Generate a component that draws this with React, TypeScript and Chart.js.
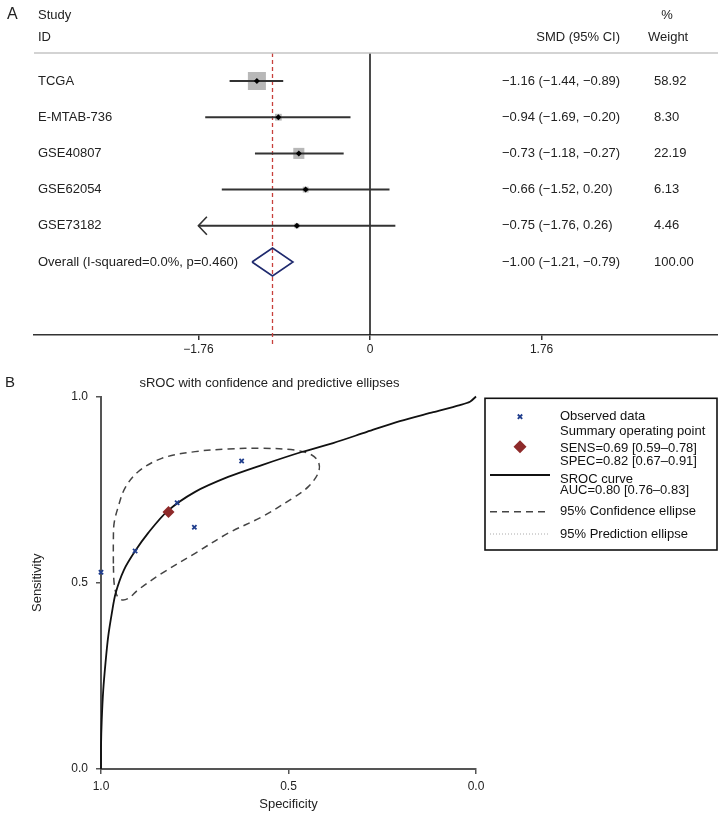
import React, { useEffect, useRef } from "react";
import { Chart, registerables } from "chart.js";

Chart.register(...registerables);

// ---------------- Panel A data (forest plot) ----------------
const STUDIES = ["TCGA", "E-MTAB-736", "GSE40807", "GSE62054", "GSE73182"];
const SMD = [-1.16, -0.94, -0.73, -0.66, -0.75];
const CI_LOW = [-1.44, -1.69, -1.18, -1.52, -1.76];
const CI_HIGH = [-0.89, -0.2, -0.27, 0.2, 0.26];
const WEIGHTS = [58.92, 8.3, 22.19, 6.13, 4.46];
const OVERALL_LABEL = "Overall (I-squared=0.0%, p=0.460)";
const OVERALL_SMD = -1.0;
const OVERALL_LOW = -1.21;
const OVERALL_HIGH = -0.79;
const OVERALL_WEIGHT = 100.0;
const FOREST_TICKS = [-1.76, 0, 1.76];

// ---------------- Panel B data (sROC) ----------------
const SROC_SPEC = [1.0, 1.0, 0.998, 0.994, 0.988, 0.981, 0.971, 0.961, 0.939, 0.909, 0.874, 0.822, 0.749, 0.661, 0.571, 0.465, 0.381, 0.291, 0.203, 0.114, 0.043, 0.016, 0.0];
const SROC_SENS = [0.0, 0.059, 0.132, 0.212, 0.285, 0.354, 0.419, 0.472, 0.534, 0.585, 0.634, 0.693, 0.744, 0.784, 0.816, 0.851, 0.875, 0.905, 0.934, 0.958, 0.977, 0.986, 1.0];
const ELLIPSE_SPEC = [0.967, 0.967, 0.965, 0.954, 0.936, 0.901, 0.838, 0.749, 0.661, 0.571, 0.483, 0.438, 0.419, 0.421, 0.447, 0.483, 0.571, 0.661, 0.749, 0.838, 0.901, 0.927, 0.945, 0.958, 0.965, 0.967];
const ELLIPSE_SENS = [0.552, 0.615, 0.66, 0.704, 0.754, 0.798, 0.834, 0.852, 0.859, 0.861, 0.856, 0.843, 0.821, 0.794, 0.758, 0.731, 0.677, 0.633, 0.579, 0.525, 0.481, 0.458, 0.454, 0.467, 0.499, 0.552];
const OBS_SPEC = [1.0, 0.909, 0.797, 0.751, 0.625];
const OBS_SENS = [0.528, 0.585, 0.715, 0.649, 0.827];
const SUMMARY_SPEC = 0.82;
const SUMMARY_SENS = 0.69;
const ROC_TICKS = [0, 0.5, 1];
const LEGEND_LABELS = [
  "Observed data",
  "Summary operating point",
  "SENS=0.69 [0.59\u20130.78]",
  "SPEC=0.82 [0.67\u20130.91]",
  "SROC curve",
  "AUC=0.80 [0.76\u20130.83]",
  "95% Confidence ellipse",
  "95% Prediction ellipse",
];

// ---------------- styles ----------------
const FONT = "'Liberation Sans', Arial, Helvetica, sans-serif";
const TEXT = "#222";
const AXIS = "#333";
const RED = "#c8403c";
const NAVY = "#1f2a6e";
const MARK_BLUE = "#1f3d8c";
const DIAMOND_RED = "#8e2a2a";

Chart.defaults.font.family = FONT;

const fmt = (v: number) => (v < 0 ? "\u2212" : "") + Math.abs(v).toFixed(2);
const tickFmt = (v: number) => (v === 0 ? "0" : fmt(v));

// forest layout (axis limits)
const FX_MIN = -3.446;
const FX_MAX = 3.569;
const FY_MIN = 0.2265;
const FY_MAX = 8.0166;
const DIAMOND_HALF = 0.387;
const SQUARE_SCALE = 2.35;

function ForestChart() {
  const ref = useRef<HTMLCanvasElement | null>(null);
  useEffect(() => {
    if (!ref.current) return;
    const overallRow = STUDIES.length + 1;
    const lineDs = (data: any[], color: string, width: number, extra: any = {}) => ({
      data,
      showLine: true,
      borderColor: color,
      borderWidth: width,
      pointRadius: 0,
      pointHoverRadius: 0,
      tension: 0,
      fill: false,
      ...extra,
    });
    const datasets: any[] = [];
    // point estimate dots (top)
    datasets.push({
      data: STUDIES.map((_, i) => ({ x: SMD[i], y: i + 1 })),
      pointStyle: "rectRot",
      pointRadius: 3,
      backgroundColor: "#000",
      borderColor: "#000",
      borderWidth: 0,
      showLine: false,
    });
    // CI lines
    STUDIES.forEach((_, i) => {
      datasets.push(
        lineDs(
          [
            { x: CI_LOW[i], y: i + 1 },
            { x: CI_HIGH[i], y: i + 1 },
          ],
          AXIS,
          2
        )
      );
    });
    // weight squares
    datasets.push({
      data: STUDIES.map((_, i) => ({ x: SMD[i], y: i + 1 })),
      pointStyle: "rect",
      pointRadius: WEIGHTS.map((w) => (SQUARE_SCALE * Math.sqrt(w)) / Math.SQRT2),
      backgroundColor: "#b8b8b8",
      borderColor: "#b8b8b8",
      borderWidth: 0,
      showLine: false,
    });
    // overall diamond
    datasets.push(
      lineDs(
        [
          { x: OVERALL_LOW, y: overallRow },
          { x: OVERALL_SMD, y: overallRow - DIAMOND_HALF },
          { x: OVERALL_HIGH, y: overallRow },
          { x: OVERALL_SMD, y: overallRow + DIAMOND_HALF },
          { x: OVERALL_LOW, y: overallRow },
        ],
        NAVY,
        1.6
      )
    );
    // red dashed overall line
    datasets.push(
      lineDs(
        [
          { x: OVERALL_SMD, y: FY_MIN },
          { x: OVERALL_SMD, y: FY_MAX + 0.25 },
        ],
        RED,
        1.3,
        { borderDash: [4, 3], clip: false }
      )
    );
    // no-effect line
    datasets.push(
      lineDs(
        [
          { x: 0, y: FY_MIN },
          { x: 0, y: FY_MAX },
        ],
        "#111",
        1.5
      )
    );

    const textPlugin = {
      id: "forestText",
      afterDraw(chart: any) {
        const { ctx, chartArea, scales } = chart;
        const xs = scales.x;
        const ys = scales.y;
        ctx.save();
        // header rule
        ctx.strokeStyle = "#c4c4c4";
        ctx.lineWidth = 1.5;
        ctx.beginPath();
        ctx.moveTo(chartArea.left, chartArea.top);
        ctx.lineTo(chartArea.right, chartArea.top);
        ctx.stroke();
        // arrows for truncated CIs
        ctx.strokeStyle = AXIS;
        ctx.lineWidth = 1.6;
        STUDIES.forEach((_, i) => {
          if (CI_LOW[i] <= FOREST_TICKS[0]) {
            const px = xs.getPixelForValue(CI_LOW[i]);
            const py = ys.getPixelForValue(i + 1);
            ctx.beginPath();
            ctx.moveTo(px + 8.5, py - 9);
            ctx.lineTo(px, py);
            ctx.lineTo(px + 8.5, py + 9);
            ctx.stroke();
          }
        });
        ctx.fillStyle = TEXT;
        ctx.textBaseline = "middle";
        // x tick labels
        ctx.textAlign = "center";
        ctx.font = `12px ${FONT}`;
        FOREST_TICKS.forEach((v) => {
          ctx.fillText(tickFmt(v), xs.getPixelForValue(v), chartArea.bottom + 15);
        });
        ctx.textAlign = "left";
        ctx.font = `16px ${FONT}`;
        ctx.fillText("A", 7, 15);
        ctx.font = `13px ${FONT}`;
        ctx.fillText("Study", 38, 15);
        ctx.fillText("ID", 38, 37.5);
        ctx.fillText("Weight", 648, 37.5);
        ctx.textAlign = "center";
        ctx.fillText("%", 667, 15);
        ctx.textAlign = "right";
        ctx.fillText("SMD (95% CI)", 620, 37.5);
        ctx.textAlign = "left";
        const rows = STUDIES.map((s, i) => ({
          label: s,
          est: SMD[i],
          lo: CI_LOW[i],
          hi: CI_HIGH[i],
          w: WEIGHTS[i],
          row: i + 1,
        }));
        rows.push({
          label: OVERALL_LABEL,
          est: OVERALL_SMD,
          lo: OVERALL_LOW,
          hi: OVERALL_HIGH,
          w: OVERALL_WEIGHT,
          row: overallRow,
        });
        rows.forEach((r) => {
          const py = ys.getPixelForValue(r.row);
          ctx.fillText(r.label, 38, py);
          ctx.fillText(`${fmt(r.est)} (${fmt(r.lo)}, ${fmt(r.hi)})`, 502, py);
          ctx.fillText(r.w.toFixed(2), 654, py);
        });
        ctx.restore();
      },
    };

    const chart = new Chart(ref.current, {
      type: "scatter",
      data: { datasets },
      options: {
        animation: false,
        responsive: false,
        events: [],
        layout: { autoPadding: false, padding: { left: 34, right: 0, top: 53, bottom: 0 } },
        plugins: { legend: { display: false }, tooltip: { enabled: false } },
        scales: {
          x: {
            type: "linear",
            min: FX_MIN,
            max: FX_MAX,
            afterBuildTicks: (ax: any) => {
              ax.ticks = FOREST_TICKS.map((v) => ({ value: v }));
            },
            afterFit: (ax: any) => {
              ax.height = 30;
            },
            ticks: { display: false },
            grid: { drawOnChartArea: false, drawTicks: true, tickLength: 5, color: AXIS, lineWidth: 1.5 },
            border: { display: true, color: AXIS, width: 1.5 },
          },
          y: { type: "linear", display: false, reverse: true, min: FY_MIN, max: FY_MAX },
        },
      } as any,
      plugins: [textPlugin],
    });
    return () => chart.destroy();
  }, []);
  return (
    <canvas
      ref={ref}
      width={718}
      height={365}
      style={{ position: "absolute", left: 0, top: 0, width: 718, height: 365 }}
    />
  );
}

function RocChart() {
  const ref = useRef<HTMLCanvasElement | null>(null);
  useEffect(() => {
    if (!ref.current) return;
    const datasets: any[] = [
      {
        data: OBS_SPEC.map((s, i) => ({ x: s, y: OBS_SENS[i] })),
        pointStyle: "crossRot",
        pointRadius: 3,
        borderColor: MARK_BLUE,
        backgroundColor: MARK_BLUE,
        borderWidth: 1.8,
        showLine: false,
        clip: false,
      },
      {
        data: [{ x: SUMMARY_SPEC, y: SUMMARY_SENS }],
        pointStyle: "rectRot",
        pointRadius: 6,
        backgroundColor: DIAMOND_RED,
        borderColor: DIAMOND_RED,
        borderWidth: 0,
        showLine: false,
        clip: false,
      },
      {
        data: SROC_SPEC.map((s, i) => ({ x: s, y: SROC_SENS[i] })),
        showLine: true,
        borderColor: "#111",
        borderWidth: 1.8,
        pointRadius: 0,
        tension: 0.3,
        fill: false,
        clip: false,
      },
      {
        data: ELLIPSE_SPEC.map((s, i) => ({ x: s, y: ELLIPSE_SENS[i] })),
        showLine: true,
        borderColor: "#444",
        borderWidth: 1.5,
        borderDash: [7, 5],
        pointRadius: 0,
        tension: 0.35,
        fill: false,
        clip: false,
      },
    ];

    const decoPlugin = {
      id: "rocDeco",
      afterDraw(chart: any) {
        const { ctx } = chart;
        ctx.save();
        ctx.fillStyle = TEXT;
        ctx.textBaseline = "middle";
        ctx.textAlign = "left";
        ctx.font = `15px ${FONT}`;
        ctx.fillText("B", 5, 18);
        ctx.textAlign = "center";
        ctx.font = `13px ${FONT}`;
        ctx.fillText("sROC with confidence and predictive ellipses", 269.5, 18.3);
        // legend box
        const bx = 485, by = 33.3, bw = 232, bh = 151.7;
        ctx.strokeStyle = "#111";
        ctx.lineWidth = 1.6;
        ctx.strokeRect(bx, by, bw, bh);
        const tx = 560;
        const ty = [51.7, 66.7, 83.3, 96.7, 114, 125, 146.7, 169];
        ctx.textAlign = "left";
        ctx.fillStyle = "#111";
        LEGEND_LABELS.forEach((t, i) => ctx.fillText(t, tx, ty[i]));
        // symbols
        const sx = 520;
        ctx.strokeStyle = MARK_BLUE;
        ctx.lineWidth = 1.8;
        const r = 2.2;
        ctx.beginPath();
        ctx.moveTo(sx - r, ty[0] - r);
        ctx.lineTo(sx + r, ty[0] + r);
        ctx.moveTo(sx + r, ty[0] - r);
        ctx.lineTo(sx - r, ty[0] + r);
        ctx.stroke();
        ctx.fillStyle = DIAMOND_RED;
        const dy = 81.7;
        ctx.beginPath();
        ctx.moveTo(sx - 6.5, dy);
        ctx.lineTo(sx, dy - 6.5);
        ctx.lineTo(sx + 6.5, dy);
        ctx.lineTo(sx, dy + 6.5);
        ctx.closePath();
        ctx.fill();
        ctx.strokeStyle = "#111";
        ctx.lineWidth = 1.8;
        ctx.beginPath();
        ctx.moveTo(490, 110);
        ctx.lineTo(550, 110);
        ctx.stroke();
        ctx.strokeStyle = "#444";
        ctx.lineWidth = 1.5;
        ctx.setLineDash([7, 5]);
        ctx.beginPath();
        ctx.moveTo(490, 146.7);
        ctx.lineTo(550, 146.7);
        ctx.stroke();
        ctx.strokeStyle = "#aaa";
        ctx.lineWidth = 1;
        ctx.setLineDash([1, 2]);
        ctx.beginPath();
        ctx.moveTo(490, 169);
        ctx.lineTo(550, 169);
        ctx.stroke();
        ctx.restore();
      },
    };

    const axisCommon = {
      type: "linear",
      min: 0,
      max: 1,
      afterBuildTicks: (ax: any) => {
        ax.ticks = ROC_TICKS.map((v) => ({ value: v }));
      },
      grid: { drawOnChartArea: false, drawTicks: true, tickLength: 5, color: "#555", lineWidth: 1.5 },
      border: { display: true, color: "#555", width: 2 },
    };

    const chart = new Chart(ref.current, {
      type: "scatter",
      data: { datasets },
      options: {
        animation: false,
        responsive: false,
        events: [],
        layout: { autoPadding: false, padding: { left: 0, right: 242, top: 31.5, bottom: 0 } },
        plugins: { legend: { display: false }, tooltip: { enabled: false } },
        scales: {
          x: {
            ...axisCommon,
            reverse: true,
            afterFit: (ax: any) => {
              ax.height = 47;
            },
            ticks: {
              callback: (v: any) => Number(v).toFixed(1),
              font: { size: 12 },
              color: TEXT,
              padding: 5,
              maxRotation: 0,
              autoSkip: false,
            },
            title: {
              display: true,
              text: "Specificity",
              font: { size: 13 },
              color: TEXT,
              padding: { top: 0, bottom: 4 },
            },
          },
          y: {
            ...axisCommon,
            afterFit: (ax: any) => {
              ax.width = 101;
            },
            ticks: {
              callback: (v: any) => Number(v).toFixed(1),
              font: { size: 12 },
              color: TEXT,
              padding: 8,
              autoSkip: false,
            },
            title: {
              display: true,
              text: "Sensitivity",
              font: { size: 13 },
              color: TEXT,
              padding: { top: 30, bottom: 0 },
            },
          },
        },
      } as any,
      plugins: [decoPlugin],
    });
    return () => chart.destroy();
  }, []);
  return (
    <canvas
      ref={ref}
      width={718}
      height={451}
      style={{ position: "absolute", left: 0, top: 365, width: 718, height: 451 }}
    />
  );
}

export default function App() {
  return (
    <div style={{ position: "absolute", left: 0, top: 0, width: 718, height: 816, background: "#fff" }}>
      <ForestChart />
      <RocChart />
    </div>
  );
}
